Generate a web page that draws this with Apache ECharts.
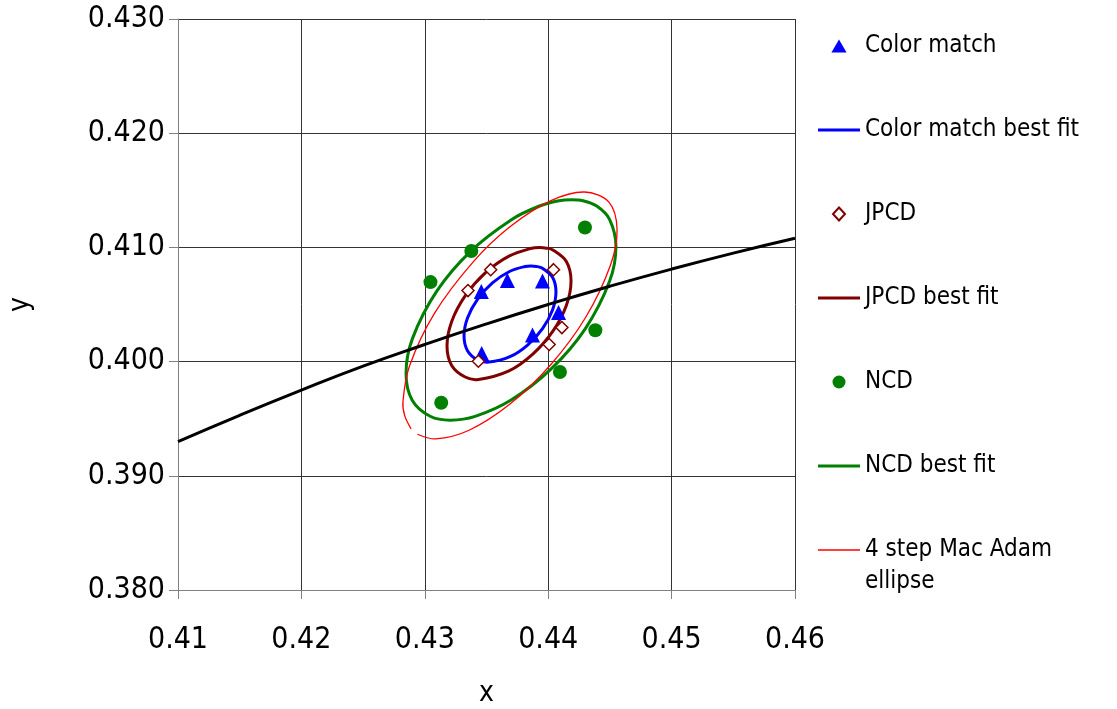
<!DOCTYPE html>
<html>
<head>
<meta charset="utf-8">
<title>Color match ellipses</title>
<script src="https://cdn.jsdelivr.net/npm/echarts@6/dist/echarts.min.js"></script>
<style>
  html, body { margin: 0; padding: 0; background: #fff; }
  #chart { width: 1117px; height: 709px; }
</style>
</head>
<body>
<div id="chart"></div>
<script>
// measured points [x, y]
var colorMatch = [
  [0.43458, 0.40614], [0.43669, 0.40711], [0.43954, 0.40705],
  [0.44084, 0.40431], [0.43873, 0.40233], [0.43461, 0.40071]
];
var jpcd = [
  [0.43350, 0.40622], [0.43534, 0.40805], [0.44043, 0.40805],
  [0.44111, 0.40298], [0.44008, 0.40150], [0.43434, 0.40003]
];
var ncd = [
  [0.43046, 0.40696], [0.43377, 0.40968], [0.44298, 0.41174],
  [0.44382, 0.40274], [0.44095, 0.39909], [0.43133, 0.39640]
];

// best fit ellipses, starting at the top (closed loops)
var colorMatchFit = [
  [0.43861, 0.40837], [0.43906, 0.40833], [0.43954, 0.40817], [0.44035, 0.40738],
  [0.44063, 0.40609], [0.44035, 0.40452], [0.43954, 0.40289], [0.43833, 0.40145],
  [0.43690, 0.40043], [0.43520, 0.39996], [0.43427, 0.40016], [0.43346, 0.40096],
  [0.43318, 0.40224], [0.43346, 0.40382], [0.43427, 0.40545], [0.43548, 0.40689],
  [0.43690, 0.40791], [0.43813, 0.40833]
];
var jpcdFit = [
  [0.43930, 0.40999], [0.43988, 0.40993], [0.44038, 0.40978], [0.44147, 0.40877],
  [0.44185, 0.40706], [0.44147, 0.40492], [0.44038, 0.40267], [0.43875, 0.40066],
  [0.43682, 0.39919], [0.43435, 0.39844], [0.43327, 0.39865], [0.43218, 0.39966],
  [0.43180, 0.40137], [0.43218, 0.40351], [0.43327, 0.40575], [0.43490, 0.40777],
  [0.43682, 0.40924], [0.43866, 0.40993]
];
var ncdFit = [
  [0.44189, 0.41417], [0.44281, 0.41408], [0.44396, 0.41360], [0.44498, 0.41244],
  [0.44549, 0.41008], [0.44498, 0.40705], [0.44300, 0.40287], [0.44024, 0.39936],
  [0.43699, 0.39663], [0.43408, 0.39520], [0.43208, 0.39487], [0.43047, 0.39519],
  [0.42899, 0.39660], [0.42848, 0.39896], [0.42899, 0.40199], [0.43097, 0.40617],
  [0.43373, 0.40968], [0.43699, 0.41241], [0.43919, 0.41358], [0.44087, 0.41408]
];
// Mac Adam ellipse stays open at the lower left, as in the original
var macAdam = [
  [0.42889, 0.39411], [0.42837, 0.39527], [0.42823, 0.39651], [0.42876, 0.39961],
  [0.43077, 0.40420], [0.43394, 0.40875], [0.43690, 0.41180], [0.44022, 0.41409],
  [0.44294, 0.41485], [0.44492, 0.41396], [0.44558, 0.41157], [0.44505, 0.40846],
  [0.44304, 0.40388], [0.44022, 0.39975], [0.43690, 0.39628], [0.43359, 0.39399],
  [0.43087, 0.39323], [0.42940, 0.39364]
];
// black curve across the plot
var locus = [
  [0.410, 0.3930], [0.415, 0.3953], [0.420, 0.3975], [0.425, 0.3996],
  [0.430, 0.4015], [0.435, 0.4033], [0.440, 0.4050], [0.445, 0.4066],
  [0.450, 0.4081], [0.455, 0.4095], [0.460, 0.4108]
];

var font = '"DejaVu Sans Condensed", "DejaVu Sans", sans-serif';
var macAdamName = '4 step Mac Adam ellipse';

var chart = echarts.init(document.getElementById('chart'));

// ellipse drawn as one smooth shape through the traced points,
// each point placed with api.coord so it follows the axes
var ellipse = function (name, pts, color, width, closed) {
  return {
    name: name,
    type: 'custom',
    data: pts,
    encode: { x: 0, y: 1 },
    z: 2,
    silent: true,
    itemStyle: { color: color },
    renderItem: function (params, api) {
      if (params.dataIndex !== 0) {
        return null;
      }
      var points = pts.map(function (p) {
        return api.coord(p);
      });
      return {
        type: closed ? 'polygon' : 'polyline',
        shape: { points: points, smooth: 0.33 },
        style: { fill: 'none', stroke: color, lineWidth: width }
      };
    }
  };
};

// legend icons as paths so they keep their shape
var lineIcon = function (name, h) {
  return {
    name: name,
    icon: 'path://M0,0H42V' + h + 'H0Z',
    itemStyle: { borderWidth: 0 }
  };
};

var legendBase = {
  orient: 'vertical',
  left: 818,
  padding: 0,
  itemWidth: 42,
  itemHeight: 13,
  itemGap: 52,
  symbolKeepAspect: true,
  textStyle: { fontFamily: font, fontSize: 24, lineHeight: 32, color: '#000' }
};

var option = {
  backgroundColor: '#fff',
  animation: false,
  textStyle: { fontFamily: font },
  grid: { left: 178, right: 322, top: 19, bottom: 119, outerBoundsMode: 'none' },
  legend: [
    Object.assign({}, legendBase, {
      top: 30,
      data: [
        { name: 'Color match', icon: 'path://M7,0L14,12L0,12Z' },
        lineIcon('Color match best fit', 3),
        { name: 'JPCD', icon: 'path://M6,0L12,6.5L6,13L0,6.5Z' },
        lineIcon('JPCD best fit', 3),
        { name: 'NCD', icon: 'path://M0,7A7,7,0,1,1,14,7A7,7,0,1,1,0,7Z' },
        lineIcon('NCD best fit', 3)
      ]
    }),
    Object.assign({}, legendBase, {
      top: 502,
      data: [lineIcon(macAdamName, 1.3)],
      // empty first line keeps the icon level with "4 step Mac Adam"
      formatter: function () { return '\n4 step Mac Adam\nellipse'; }
    })
  ],
  xAxis: {
    type: 'value',
    min: 0.41,
    max: 0.46,
    interval: 0.01,
    name: 'x',
    nameLocation: 'middle',
    nameGap: 90,
    nameTextStyle: { fontFamily: font, fontSize: 28, color: '#000' },
    axisLine: { onZero: false, lineStyle: { color: '#808080', width: 1 } },
    axisTick: { show: true, length: 9, lineStyle: { color: '#808080' } },
    axisLabel: {
      margin: 35,
      fontSize: 30,
      color: '#000',
      fontFamily: font,
      formatter: function (v) { return v.toFixed(2); }
    },
    splitLine: { show: true, lineStyle: { color: '#333', width: 1 } }
  },
  yAxis: {
    type: 'value',
    min: 0.38,
    max: 0.43,
    interval: 0.01,
    name: 'y',
    nameLocation: 'middle',
    nameGap: 143,
    nameTextStyle: { fontFamily: font, fontSize: 28, color: '#000' },
    axisLine: { show: true, onZero: false, lineStyle: { color: '#808080', width: 1 } },
    axisTick: { show: true, length: 9, lineStyle: { color: '#808080' } },
    axisLabel: {
      margin: 13,
      fontSize: 30,
      color: '#000',
      fontFamily: font,
      formatter: function (v) { return v.toFixed(3); }
    },
    splitLine: { show: true, lineStyle: { color: '#333', width: 1 } }
  },
  series: [
    {
      name: 'Color match',
      type: 'scatter',
      data: colorMatch,
      symbol: 'triangle',
      symbolSize: 15,
      z: 5,
      itemStyle: { color: '#0000ff', opacity: 1 }
    },
    ellipse('Color match best fit', colorMatchFit, '#0000ff', 3, true),
    {
      name: 'JPCD',
      type: 'scatter',
      data: jpcd,
      symbol: 'diamond',
      symbolSize: 12,
      z: 5,
      itemStyle: { color: '#fff', borderColor: '#800000', borderWidth: 1.5, opacity: 1 }
    },
    ellipse('JPCD best fit', jpcdFit, '#800000', 3, true),
    {
      name: 'NCD',
      type: 'scatter',
      data: ncd,
      symbol: 'circle',
      symbolSize: 14,
      z: 5,
      itemStyle: { color: '#008000', opacity: 1 }
    },
    ellipse('NCD best fit', ncdFit, '#008000', 3, true),
    ellipse(macAdamName, macAdam, '#ff0000', 1.3, false),
    {
      name: 'locus',
      type: 'line',
      data: locus,
      smooth: true,
      symbol: 'none',
      z: 3,
      lineStyle: { color: '#000', width: 3 }
    }
  ]
};

chart.setOption(option);
</script>
</body>
</html>
